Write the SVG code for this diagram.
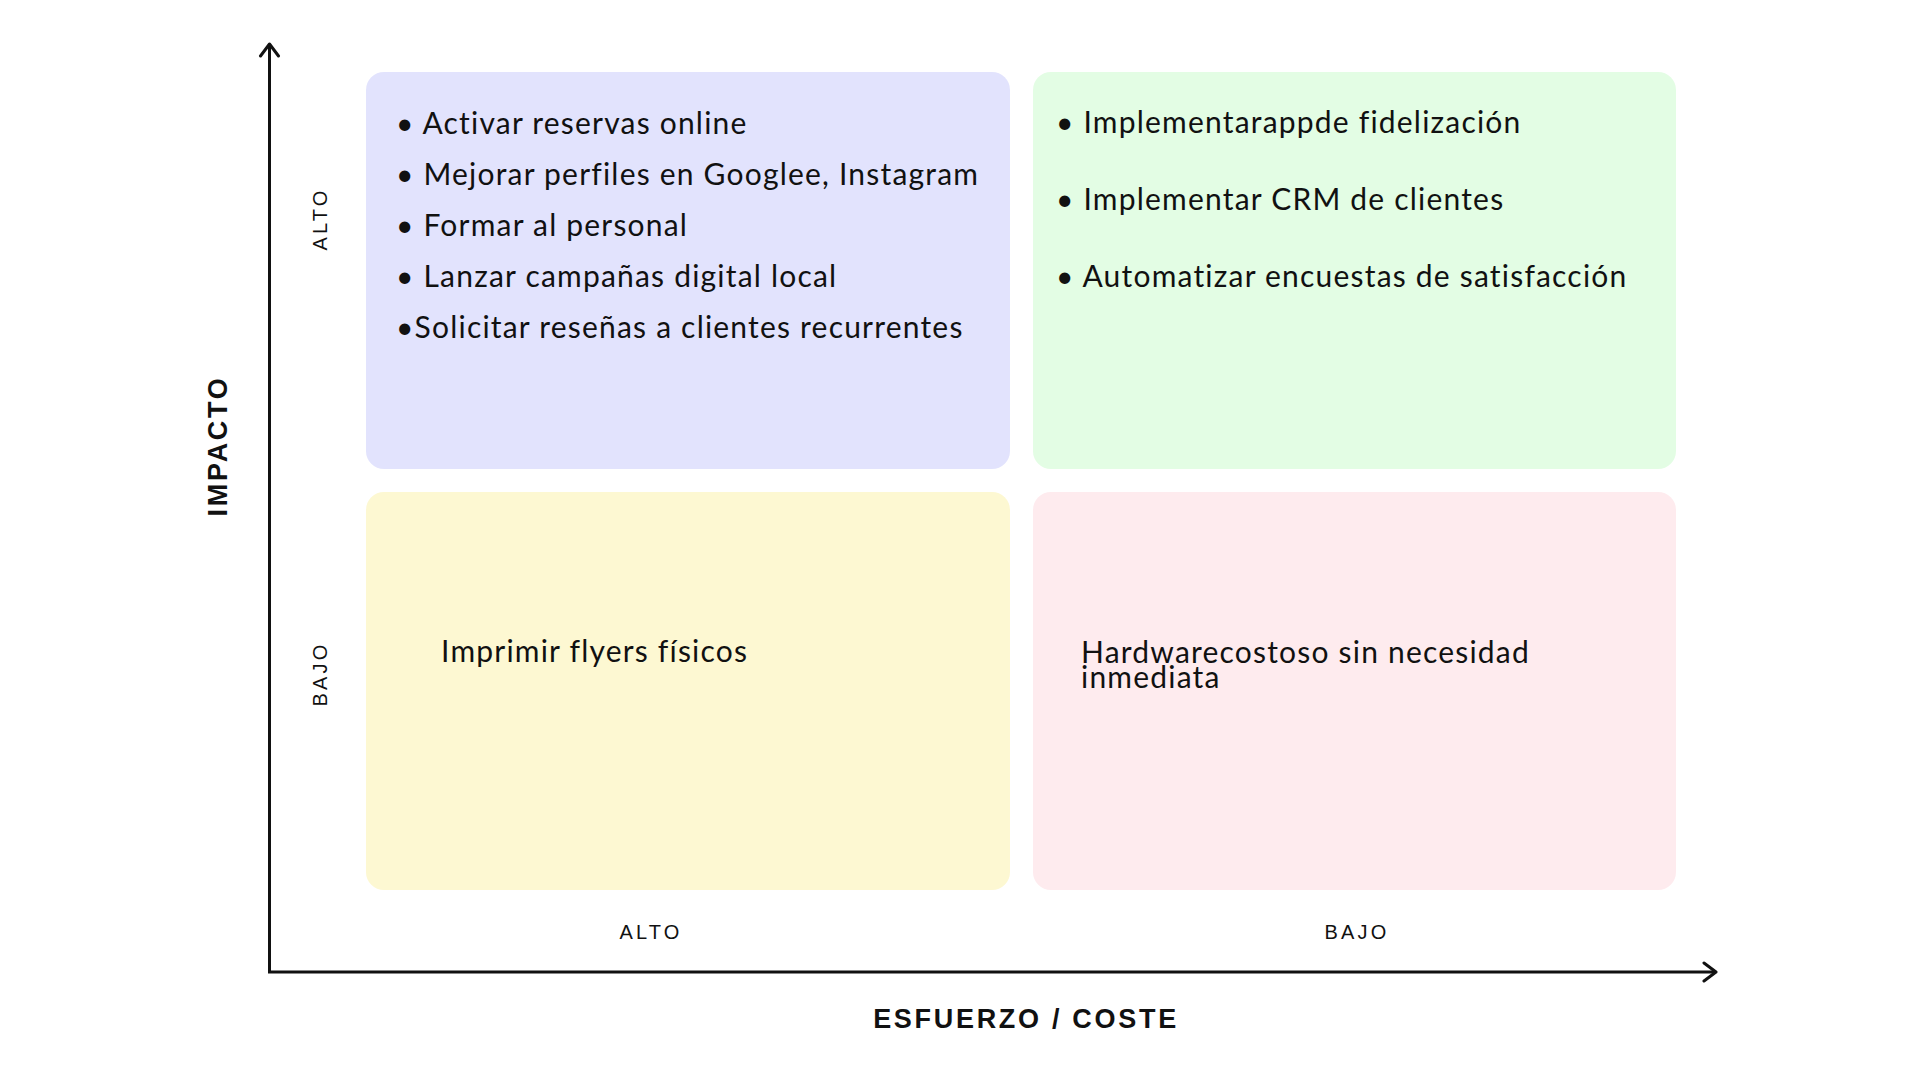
<svg xmlns="http://www.w3.org/2000/svg" width="1920" height="1080" viewBox="0 0 1920 1080">
<defs>
<style>
.box{stroke:none}
.item{font-family:Lato,"Noto Sans",sans-serif;font-size:30px;letter-spacing:1.2px;fill:#111}
.axis{stroke:#111;stroke-width:3;fill:none}
.ttl{font-family:"Liberation Sans",Arial,sans-serif;font-weight:bold;font-size:27px;letter-spacing:2.7px;fill:#111}
.lvl{font-family:"Liberation Sans",Arial,sans-serif;font-size:20px;letter-spacing:3.2px;fill:#111}
</style>
<marker id="arr" markerUnits="userSpaceOnUse" markerWidth="30" markerHeight="30" refX="14" refY="10" orient="auto" viewBox="0 0 30 20">
<path d="M2,1 L14,10 L2,19" fill="none" stroke="#111" stroke-width="3" stroke-linecap="round" stroke-linejoin="round"/>
</marker>
</defs>
<rect width="1920" height="1080" fill="#ffffff"/>

<g id="connectors">
<line class="axis" x1="269.5" y1="972" x2="269.5" y2="44" marker-end="url(#arr)"/>
<line class="axis" x1="268" y1="972" x2="1716" y2="972" marker-end="url(#arr)"/>
</g>

<g id="q-alto-alto">
<rect class="box" x="366" y="72" width="644" height="397" rx="18" fill="#E2E3FD"/>
<text class="item" x="396" y="134">• Activar reservas online</text>
<text class="item" x="396" y="185">• Mejorar perfiles en Googlee, Instagram</text>
<text class="item" x="396" y="236">• Formar al personal</text>
<text class="item" x="396" y="287">• Lanzar campañas digital local</text>
<text class="item" x="396" y="338">•Solicitar reseñas a clientes recurrentes</text>
</g>

<g id="q-alto-bajo">
<rect class="box" x="1033" y="72" width="643" height="397" rx="18" fill="#E3FDE4"/>
<text class="item" x="1056" y="133">• Implementarappde fidelización</text>
<text class="item" x="1056" y="210">• Implementar CRM de clientes</text>
<text class="item" x="1056" y="287">• Automatizar encuestas de satisfacción</text>
</g>

<g id="q-bajo-alto">
<rect class="box" x="366" y="492" width="644" height="398" rx="18" fill="#FDF8D2"/>
<text class="item" x="441" y="662">Imprimir flyers físicos</text>
</g>

<g id="q-bajo-bajo">
<rect class="box" x="1033" y="492" width="643" height="398" rx="18" fill="#FEEBEE"/>
<text class="item" x="1081" y="663">Hardwarecostoso sin necesidad<tspan x="1081" y="688">inmediata</tspan></text>
</g>

<g id="labels">
<text class="ttl" transform="translate(227,446) rotate(-90)" text-anchor="middle">IMPACTO</text>
<text class="ttl" x="1026" y="1028" text-anchor="middle">ESFUERZO / COSTE</text>
<text class="lvl" transform="translate(327,219) rotate(-90)" text-anchor="middle">ALTO</text>
<text class="lvl" transform="translate(327,674) rotate(-90)" text-anchor="middle">BAJO</text>
<text class="lvl" x="651" y="939" text-anchor="middle">ALTO</text>
<text class="lvl" x="1357" y="939" text-anchor="middle">BAJO</text>
</g>
</svg>
